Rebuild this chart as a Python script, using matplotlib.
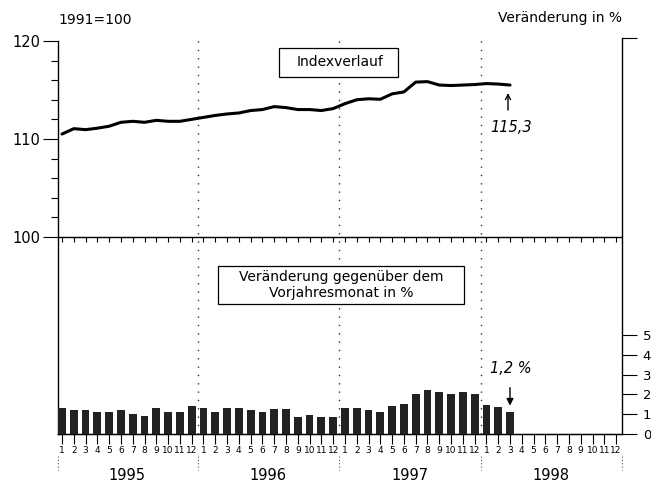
import matplotlib
matplotlib.use("Agg")
import matplotlib.pyplot as plt
from matplotlib.patches import Rectangle
from matplotlib.transforms import offset_copy

plt.rcParams['font.family'] = ['DejaVu Sans']

# ---- data ----
years = ['1995', '1996', '1997', '1998']
month_labels = [str(m) for m in range(1, 13)] * 4
index_values = [110.5, 111.05, 110.95, 111.1, 111.3, 111.7, 111.8, 111.7, 111.9, 111.8, 111.8, 112.0,
                112.2, 112.4, 112.55, 112.65, 112.9, 113.0, 113.3, 113.2, 113.0, 113.0, 112.9, 113.1,
                113.6, 114.0, 114.1, 114.05, 114.6, 114.8, 115.8, 115.85, 115.5, 115.45, 115.5, 115.55,
                115.65, 115.6, 115.5]
change_values = [1.30, 1.20, 1.20, 1.10, 1.10, 1.22, 1.03, 0.93, 1.32, 1.11, 1.11, 1.43,
                 1.33, 1.12, 1.32, 1.32, 1.22, 1.13, 1.27, 1.27, 0.85, 0.96, 0.85, 0.85,
                 1.32, 1.32, 1.23, 1.12, 1.43, 1.53, 2.02, 2.24, 2.12, 2.04, 2.14, 2.04,
                 1.47, 1.35, 1.13]
index_label = '115,3'
change_label = '1,2 %'

W, H = 651, 482
fig = plt.figure(figsize=(W / 100, H / 100), dpi=100)
fx = lambda px: px / W
fy = lambda py: 1 - py / H

L, R, T, B = 58, 622, 38, 434
ax = fig.add_axes([fx(L), fy(B), fx(R - L), (B - T) / H])
ax.set_xlim(-0.34, 47.5)
ax.set_ylim(79.9, 120.3)
ax2 = ax.twinx()
ax2.set_ylim(0, (B - T) / 19.8)

n_months = len(month_labels)
xs = list(range(n_months))

# bars
ax2.bar(xs[:len(change_values)], change_values, width=0.66, color='#222222', zorder=3)
# index line
ax.plot(xs[:len(index_values)], index_values, color='black', lw=2.2, solid_capstyle='round',
        solid_joinstyle='round', zorder=4)

# 100 baseline with small month ticks
ax.axhline(100, color='black', lw=1.0)
ax.vlines(xs, 100 - 5 / 9.8, 100, color='black', lw=0.8)

# year separators (dotted)
for xb in [11.5, 23.5, 35.5]:
    ax.axvline(xb, color='#333333', lw=1.0, ls=(0, (1, 5)))
for xb in [-0.34, 11.5, 23.5, 35.5, 47.5]:
    ax.plot([xb, xb], [(B - 456) / (B - T), (B - 470) / (B - T)], transform=ax.get_xaxis_transform(),
            color='#555555', lw=0.8, ls=(0, (1, 2)), clip_on=False)

# spines
for a in (ax, ax2):
    a.spines['top'].set_visible(False)
ax.spines['right'].set_visible(False)
ax2.spines['left'].set_visible(False)
ax.spines['left'].set_bounds(79.9, 120)
for s in ['left', 'bottom']:
    ax.spines[s].set_linewidth(1.0)
ax2.spines['right'].set_linewidth(1.0)

# x ticks
ax.set_xticks(xs)
ax.set_xticklabels(month_labels, fontsize=6.5)
ax.tick_params(axis='x', direction='out', length=7, width=0.8, pad=1.5)
ax2.tick_params(axis='x', bottom=False)

# year labels
for i, yr in enumerate(years):
    ax.text(i * 12 + 5.5, (B - 476) / (B - T), yr, transform=ax.get_xaxis_transform(),
            ha='center', va='center', fontsize=10.5)

# left y ticks
ax.set_yticks([100, 110, 120])
ax.set_yticklabels(['100', '110', '120'], fontsize=10.5)
ax.set_yticks([102, 104, 106, 108, 112, 114, 116, 118], minor=True)
ax.tick_params(axis='y', which='major', direction='out', length=11, width=0.8, pad=2)
ax.tick_params(axis='y', which='minor', direction='out', length=5, width=0.8)

# right y ticks
ax2.set_yticks([0, 1, 2, 3, 4, 5])
ax2.set_yticklabels(['0', '1', '2', '3', '4', '5'], fontsize=9.5)
ax2.set_yticks([(B - T) / 19.8], minor=True)
ax2.tick_params(axis='y', which='major', direction='out', length=11, width=0.8, pad=4)
ax2.tick_params(axis='y', which='minor', direction='out', length=11, width=0.8)

# header texts
fig.text(fx(58), fy(20), '1991=100', ha='left', va='center', fontsize=10)
fig.text(fx(622), fy(18), 'Veränderung in %', ha='right', va='center', fontsize=10)

# boxes
fig.add_artist(Rectangle((fx(279), fy(77)), fx(398 - 279), (77 - 48) / H, transform=fig.transFigure,
                         fill=True, facecolor='white', edgecolor='black', lw=0.9, zorder=5))
fig.text(fx(340), fy(62.5), 'Indexverlauf', ha='center', va='center', fontsize=10, zorder=6)
fig.add_artist(Rectangle((fx(218), fy(304)), fx(464 - 218), (304 - 266) / H, transform=fig.transFigure,
                         fill=True, facecolor='white', edgecolor='black', lw=0.9, zorder=5))
fig.text(fx(341), fy(276.5), 'Veränderung gegenüber dem', ha='center', va='center', fontsize=10, zorder=6)
fig.text(fx(341), fy(293.5), 'Vorjahresmonat in %', ha='center', va='center', fontsize=10, zorder=6)

# annotations
li = len(index_values) - 1
tr_idx = offset_copy(ax.transData, fig=fig, x=-2, y=-8, units='dots')
ax.annotate('', xy=(li, index_values[-1]), xycoords=tr_idx, xytext=(0, -17), textcoords='offset pixels',
            arrowprops=dict(arrowstyle='->', lw=1.0, color='black', mutation_scale=9, shrinkA=0, shrinkB=0))
ax.annotate(index_label, xy=(li, index_values[-1]), xycoords='data', xytext=(1, -42), textcoords='offset pixels',
            ha='center', va='center', fontsize=10.5, style='italic')

lb = len(change_values) - 1
tr_bar = offset_copy(ax2.transData, fig=fig, x=0, y=6, units='dots')
ax2.annotate('', xy=(lb, change_values[-1]), xycoords=tr_bar, xytext=(0, 18), textcoords='offset pixels',
             arrowprops=dict(arrowstyle='-|>', lw=1.0, color='black', mutation_scale=10, shrinkA=0, shrinkB=0))
ax2.annotate(change_label, xy=(lb, change_values[-1]), xycoords='data', xytext=(1, 43), textcoords='offset pixels',
             ha='center', va='center', fontsize=10.5, style='italic')

fig.savefig('out.png', dpi=100)
